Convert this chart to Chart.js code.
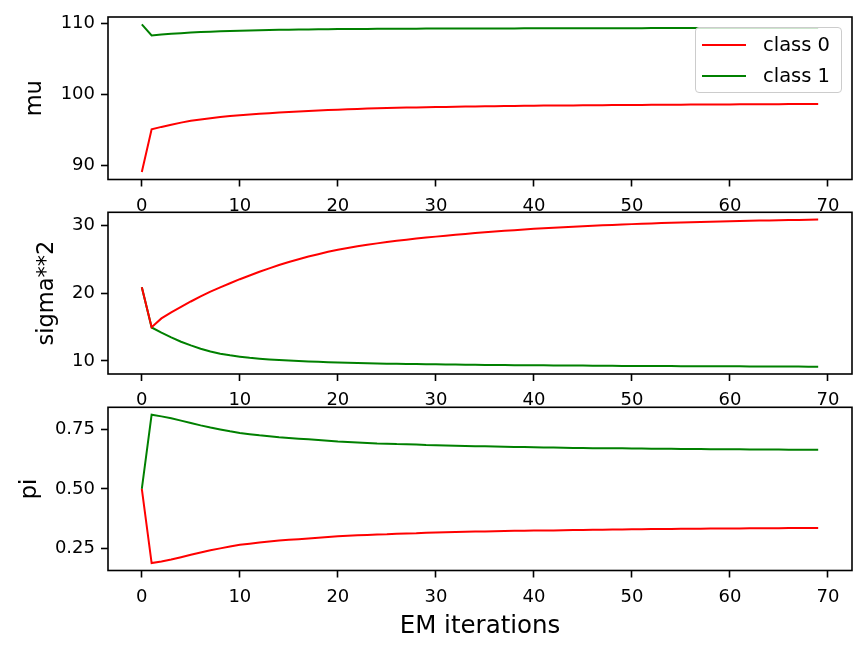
<!DOCTYPE html>
<html lang="en">
<head>
    <meta charset="UTF-8">
    <title>EM iterations</title>
    <script src="https://cdn.jsdelivr.net/npm/chart.js"></script>
    <style>
        html, body { margin: 0; padding: 0; background: #fff; }
        .wrap { position: relative; width: 867px; height: 653px; overflow: hidden; font-family: 'DejaVu Sans', sans-serif; }
        .wrap canvas { position: absolute; left: 0; }
        .legend {
            position: absolute; left: 695px; top: 27px; width: 147px; height: 66px;
            border: 1px solid #cccccc; border-radius: 4px; background: rgba(255, 255, 255, 0.8);
            box-sizing: border-box;
        }
        .legend .row { position: absolute; left: 0; height: 24px; width: 100%; }
        .legend .swatch { position: absolute; left: 6px; top: 11px; width: 44px; height: 2px; }
        .legend .txt { position: absolute; left: 67px; top: 0; font-size: 19.5px; line-height: 24px; color: #000; }
    </style>
</head>
<body>
    <div class="wrap">
        <canvas id="chartMu" width="867" height="215" style="top:0px"></canvas>
        <canvas id="chartSigma" width="867" height="215" style="top:195px"></canvas>
        <canvas id="chartPi" width="867" height="263" style="top:390px"></canvas>
        <div class="legend">
            <div class="row" style="top:5px"><div class="swatch" style="background:#ff0000"></div><span class="txt">class 0</span></div>
            <div class="row" style="top:36px"><div class="swatch" style="background:#008000"></div><span class="txt">class 1</span></div>
        </div>
    </div>

    <script>
        // EM iterations 0..69
        const iterations = [
            0, 1, 2, 3, 4, 5, 6, 7, 8, 9,
            10, 11, 12, 13, 14, 15, 16, 17, 18, 19,
            20, 21, 22, 23, 24, 25, 26, 27, 28, 29,
            30, 31, 32, 33, 34, 35, 36, 37, 38, 39,
            40, 41, 42, 43, 44, 45, 46, 47, 48, 49,
            50, 51, 52, 53, 54, 55, 56, 57, 58, 59,
            60, 61, 62, 63, 64, 65, 66, 67, 68, 69
        ];

        const muClass0 = [
            89.1, 95.1, 95.45, 95.75, 96.05, 96.3, 96.5, 96.68, 96.84, 96.97,
            97.08, 97.19, 97.29, 97.38, 97.47, 97.55, 97.62, 97.69, 97.75, 97.81,
            97.87, 97.92, 97.97, 98.02, 98.06, 98.10, 98.13, 98.16, 98.19, 98.22,
            98.24, 98.26, 98.28, 98.30, 98.32, 98.34, 98.36, 98.38, 98.40, 98.41,
            98.43, 98.44, 98.45, 98.46, 98.47, 98.48, 98.49, 98.50, 98.51, 98.52,
            98.53, 98.54, 98.55, 98.56, 98.57, 98.57, 98.58, 98.59, 98.60, 98.60,
            98.61, 98.62, 98.62, 98.63, 98.64, 98.64, 98.65, 98.65, 98.66, 98.66
        ];
        const muClass1 = [
            109.85, 108.3, 108.42, 108.53, 108.62, 108.7, 108.77, 108.83, 108.88, 108.93,
            108.97, 109.01, 109.04, 109.07, 109.09, 109.11, 109.13, 109.15, 109.17, 109.18,
            109.19, 109.2, 109.21, 109.22, 109.23, 109.24, 109.24, 109.25, 109.25, 109.26,
            109.26, 109.27, 109.27, 109.28, 109.28, 109.28, 109.29, 109.29, 109.29, 109.3,
            109.3, 109.3, 109.3, 109.31, 109.31, 109.31, 109.31, 109.32, 109.32, 109.32,
            109.32, 109.32, 109.33, 109.33, 109.33, 109.33, 109.33, 109.33, 109.34, 109.34,
            109.34, 109.34, 109.34, 109.34, 109.34, 109.35, 109.35, 109.35, 109.35, 109.35
        ];

        const sigmaClass0 = [
            20.9, 15.0, 16.3, 17.2, 18.0, 18.8, 19.55, 20.25, 20.9, 21.5,
            22.1, 22.65, 23.2, 23.7, 24.2, 24.65, 25.05, 25.45, 25.8, 26.15,
            26.45, 26.72, 26.96, 27.19, 27.4, 27.6, 27.78, 27.95, 28.11, 28.26,
            28.4, 28.54, 28.67, 28.8, 28.93, 29.05, 29.16, 29.26, 29.36, 29.46,
            29.55, 29.63, 29.71, 29.79, 29.87, 29.94, 30.0, 30.07, 30.13, 30.19,
            30.25, 30.3, 30.35, 30.4, 30.45, 30.5, 30.54, 30.57, 30.61, 30.65,
            30.68, 30.71, 30.74, 30.77, 30.8, 30.82, 30.85, 30.87, 30.9, 30.92
        ];
        const sigmaClass1 = [
            20.9, 14.95, 14.2, 13.5, 12.85, 12.3, 11.8, 11.4, 11.08, 10.83,
            10.63, 10.46, 10.33, 10.22, 10.13, 10.05, 9.98, 9.92, 9.87, 9.82,
            9.77, 9.73, 9.69, 9.66, 9.63, 9.6, 9.58, 9.56, 9.54, 9.52,
            9.5, 9.48, 9.47, 9.45, 9.44, 9.42, 9.41, 9.4, 9.38, 9.37,
            9.36, 9.35, 9.34, 9.33, 9.32, 9.31, 9.3, 9.29, 9.28, 9.27,
            9.27, 9.26, 9.25, 9.24, 9.24, 9.23, 9.22, 9.22, 9.21, 9.21,
            9.2, 9.2, 9.19, 9.19, 9.18, 9.18, 9.17, 9.17, 9.16, 9.16
        ];

        const piClass0 = [
            0.5, 0.187, 0.194, 0.202, 0.212, 0.222, 0.232, 0.241, 0.249, 0.257,
            0.264, 0.269, 0.274, 0.278, 0.282, 0.285, 0.288, 0.291, 0.294, 0.297,
            0.300, 0.302, 0.304, 0.306, 0.308, 0.309, 0.311, 0.312, 0.313, 0.315,
            0.316, 0.317, 0.318, 0.319, 0.320, 0.320, 0.321, 0.322, 0.323, 0.323,
            0.324, 0.325, 0.325, 0.326, 0.327, 0.327, 0.328, 0.328, 0.329, 0.329,
            0.330, 0.330, 0.331, 0.331, 0.331, 0.332, 0.332, 0.332, 0.333, 0.333,
            0.333, 0.333, 0.334, 0.334, 0.334, 0.334, 0.335, 0.335, 0.335, 0.335
        ];
        const piClass1 = [
            0.5, 0.813, 0.806, 0.798, 0.788, 0.778, 0.768, 0.759, 0.751, 0.743,
            0.736, 0.731, 0.726, 0.722, 0.718, 0.715, 0.712, 0.709, 0.706, 0.703,
            0.700, 0.698, 0.696, 0.694, 0.692, 0.691, 0.689, 0.688, 0.687, 0.685,
            0.684, 0.683, 0.682, 0.681, 0.680, 0.680, 0.679, 0.678, 0.677, 0.677,
            0.676, 0.675, 0.675, 0.674, 0.673, 0.673, 0.672, 0.672, 0.671, 0.671,
            0.670, 0.670, 0.669, 0.669, 0.669, 0.668, 0.668, 0.668, 0.667, 0.667,
            0.667, 0.667, 0.666, 0.666, 0.666, 0.666, 0.665, 0.665, 0.665, 0.665
        ];

        const xTicks = [0, 10, 20, 30, 40, 50, 60, 70];
        const muTicks = [90, 100, 110];
        const muTickLabels = ['90', '100', '110'];
        const sigmaTicks = [10, 20, 30];
        const sigmaTickLabels = ['10', '20', '30'];
        const piTicks = [0.25, 0.5, 0.75];
        const piTickLabels = ['0.25', '0.50', '0.75'];

        const seriesNames = ['class 0', 'class 1'];
        const seriesColors = ['#ff0000', '#008000'];

        const FONT = "'DejaVu Sans', sans-serif";
        const TICK_FONT = { family: FONT, size: 18 };
        const XTITLE_FONT = { family: FONT, size: 24.5 };
        const YTITLE_FONT = { family: FONT, size: 22.5 };

        // draws the black box round each subplot
        const framePlugin = {
            id: 'frame',
            afterDraw(chart) {
                const { ctx, chartArea: a } = chart;
                ctx.save();
                ctx.strokeStyle = '#000';
                ctx.lineWidth = 1.6;
                ctx.strokeRect(a.left, a.top, a.right - a.left, a.bottom - a.top);
                ctx.restore();
            }
        };

        function toPoints(values) {
            return values.map((v, i) => ({ x: iterations[i], y: v }));
        }

        function makePanel(id, opts) {
            const ctx = document.getElementById(id).getContext('2d');
            return new Chart(ctx, {
                type: 'line',
                data: {
                    datasets: opts.series.map((vals, k) => ({
                        label: seriesNames[k],
                        data: toPoints(vals),
                        borderColor: seriesColors[k],
                        backgroundColor: seriesColors[k],
                        borderWidth: 2,
                        pointRadius: 0,
                        tension: 0,
                        fill: false
                    }))
                },
                options: {
                    responsive: false,
                    animation: false,
                    events: [],
                    layout: { padding: { left: 0, right: 15, top: opts.padTop, bottom: 0 } },
                    plugins: {
                        legend: { display: false },
                        tooltip: { enabled: false }
                    },
                    scales: {
                        x: {
                            type: 'linear',
                            min: -3.45,
                            max: 72.45,
                            afterBuildTicks: s => { s.ticks = xTicks.map(v => ({ value: v })); },
                            afterFit: s => { s.height = opts.xHeight; },
                            ticks: {
                                color: '#000',
                                font: TICK_FONT,
                                padding: 9,
                                autoSkip: false,
                                maxRotation: 0,
                                callback: v => String(v)
                            },
                            grid: {
                                drawOnChartArea: false,
                                drawTicks: true,
                                tickLength: 7,
                                tickColor: '#000',
                                tickWidth: 1.6
                            },
                            border: { display: false },
                            title: opts.xTitle ? {
                                display: true,
                                text: opts.xTitle,
                                color: '#000',
                                font: XTITLE_FONT,
                                padding: { top: 0, bottom: 12 }
                            } : { display: false }
                        },
                        y: {
                            type: 'linear',
                            min: opts.yMin,
                            max: opts.yMax,
                            afterBuildTicks: s => { s.ticks = opts.yTicks.map(v => ({ value: v })); },
                            afterFit: s => { s.width = 108; },
                            ticks: {
                                color: '#000',
                                font: TICK_FONT,
                                padding: 6,
                                callback: (v, i) => opts.yTickLabels[i]
                            },
                            grid: {
                                drawOnChartArea: false,
                                drawTicks: true,
                                tickLength: 7,
                                tickColor: '#000',
                                tickWidth: 1.6
                            },
                            border: { display: false },
                            title: {
                                display: true,
                                text: opts.yTitle,
                                color: '#000',
                                font: YTITLE_FONT,
                                padding: { top: opts.yTitlePad, bottom: 0 }
                            }
                        }
                    }
                },
                plugins: [framePlugin]
            });
        }

        makePanel('chartMu', {
            series: [muClass0, muClass1],
            yMin: 88.06, yMax: 110.89,
            yTicks: muTicks, yTickLabels: muTickLabels,
            yTitle: 'mu', yTitlePad: 22,
            padTop: 17, xHeight: 35.5
        });

        makePanel('chartSigma', {
            series: [sigmaClass0, sigmaClass1],
            yMin: 8.07, yMax: 32.0,
            yTicks: sigmaTicks, yTickLabels: sigmaTickLabels,
            yTitle: 'sigma**2', yTitlePad: 34,
            padTop: 17.3, xHeight: 36
        });

        makePanel('chartPi', {
            series: [piClass0, piClass1],
            yMin: 0.1557, yMax: 0.8443,
            yTicks: piTicks, yTickLabels: piTickLabels,
            yTitle: 'pi', yTitlePad: 17,
            padTop: 17.3, xHeight: 82.5,
            xTitle: 'EM iterations'
        });
    </script>
</body>
</html>
